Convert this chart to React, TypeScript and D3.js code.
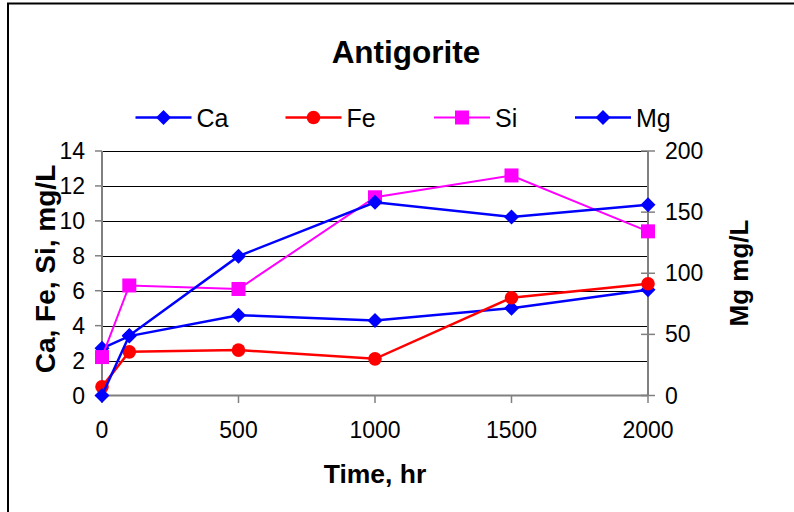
import React from 'react'
import * as d3 from 'd3'

const times = [0, 100, 500, 1000, 1500, 2000]
const ca = [2.7, 3.4, 4.6, 4.3, 5.0, 6.05]
const fe = [0.5, 2.5, 2.6, 2.1, 5.6, 6.4]
const si = [2.2, 6.3, 6.1, 11.35, 12.6, 9.4]
const mg = [0, 49, 114, 158, 146, 156]
const xTicks = [0, 500, 1000, 1500, 2000]
const leftTicks = [0, 2, 4, 6, 8, 10, 12, 14]
const rightTicks = [0, 50, 100, 150, 200]

const W = 794, H = 512
const font = 'Liberation Sans, Arial, sans-serif'

type Marker = 'diamond' | 'circle' | 'square'

function Mark({ kind, x, y, color }: { kind: Marker; x: number; y: number; color: string }) {
  if (kind === 'circle') return <circle cx={x} cy={y} r={6.8} fill={color} />
  if (kind === 'square') return <rect x={x - 7} y={y - 7} width={14} height={14} fill={color} />
  const d = 7.5
  return <path d={`M${x},${y - d}L${x + d},${y}L${x},${y + d}L${x - d},${y}Z`} fill={color} />
}

export default function App() {
  const x = d3.scaleLinear().domain([0, 2000]).range([102, 648])
  const yL = d3.scaleLinear().domain([0, 14]).range([395.5, 151])
  const yR = d3.scaleLinear().domain([0, 200]).range([395.5, 151])

  const series = [
    { name: 'Ca', vals: ca, y: yL, color: '#0000FF', kind: 'diamond' as Marker, w: 2.5 },
    { name: 'Fe', vals: fe, y: yL, color: '#FF0000', kind: 'circle' as Marker, w: 2.5 },
    { name: 'Si', vals: si, y: yL, color: '#FF00FF', kind: 'square' as Marker, w: 2 },
    { name: 'Mg', vals: mg, y: yR, color: '#0000FF', kind: 'diamond' as Marker, w: 2.5 },
  ]
  const legendX = [135.5, 285.5, 434, 575]

  return (
    <svg width={W} height={H} style={{ position: 'absolute', left: 0, top: 0, background: '#fff' }} fontFamily={font}>
      <rect x={8} y={3.5} width={W} height={H} fill="#fff" stroke="#000" strokeWidth={2} />

      <text x={406} y={63} textAnchor="middle" fontSize={31.5} fontWeight="bold">Antigorite</text>

      {/* legend */}
      {series.map((s, i) => (
        <g key={s.name}>
          <line x1={legendX[i]} x2={legendX[i] + 56} y1={117.5} y2={117.5} stroke={s.color} strokeWidth={s.w} />
          <Mark kind={s.kind} x={legendX[i] + 28} y={117.5} color={s.color} />
          <text x={legendX[i] + 61} y={127} fontSize={25}>{s.name}</text>
        </g>
      ))}

      {/* gridlines */}
      {leftTicks.slice(1).map(t => (
        <line key={t} x1={102} x2={648} y1={Math.round(yL(t)) + 0.5} y2={Math.round(yL(t)) + 0.5} stroke="#000" strokeWidth={1} />
      ))}

      {/* axes */}
      <line x1={102} x2={102} y1={151} y2={396} stroke="#808080" strokeWidth={2} />
      <line x1={648} x2={648} y1={151} y2={396} stroke="#808080" strokeWidth={2} />
      <line x1={102} x2={648} y1={395.5} y2={395.5} stroke="#808080" strokeWidth={2} />
      {leftTicks.map(t => (
        <g key={t}>
          <line x1={95} x2={102} y1={yL(t)} y2={yL(t)} stroke="#808080" strokeWidth={1.5} />
          <text x={85} y={yL(t)} dy="0.35em" textAnchor="end" fontSize={23}>{t}</text>
        </g>
      ))}
      {rightTicks.map(t => (
        <g key={t}>
          <line x1={641} x2={655} y1={yR(t)} y2={yR(t)} stroke="#808080" strokeWidth={1.5} />
          <text x={665} y={yR(t)} dy="0.35em" fontSize={23}>{t}</text>
        </g>
      ))}
      {xTicks.map(t => (
        <g key={t}>
          <line x1={x(t)} x2={x(t)} y1={395.5} y2={403} stroke="#808080" strokeWidth={1.5} />
          <text x={x(t)} y={438} textAnchor="middle" fontSize={23}>{t}</text>
        </g>
      ))}

      {/* axis titles */}
      <text x={375} y={483} textAnchor="middle" fontSize={26.5} fontWeight="bold">Time, hr</text>
      <text transform="translate(55,269) rotate(-90)" textAnchor="middle" fontSize={28} fontWeight="bold">Ca, Fe, Si, mg/L</text>
      <text transform="translate(748,273) rotate(-90)" textAnchor="middle" fontSize={26} fontWeight="bold">Mg mg/L</text>

      {/* series */}
      {series.map(s => {
        const line = d3.line<number>().x((_, i) => x(times[i])).y(v => s.y(v))
        return (
          <g key={s.name}>
            <path d={line(s.vals) || ''} fill="none" stroke={s.color} strokeWidth={s.w} />
            {s.vals.map((v, i) => (
              <Mark key={i} kind={s.kind} x={x(times[i])} y={s.y(v)} color={s.color} />
            ))}
          </g>
        )
      })}
    </svg>
  )
}
